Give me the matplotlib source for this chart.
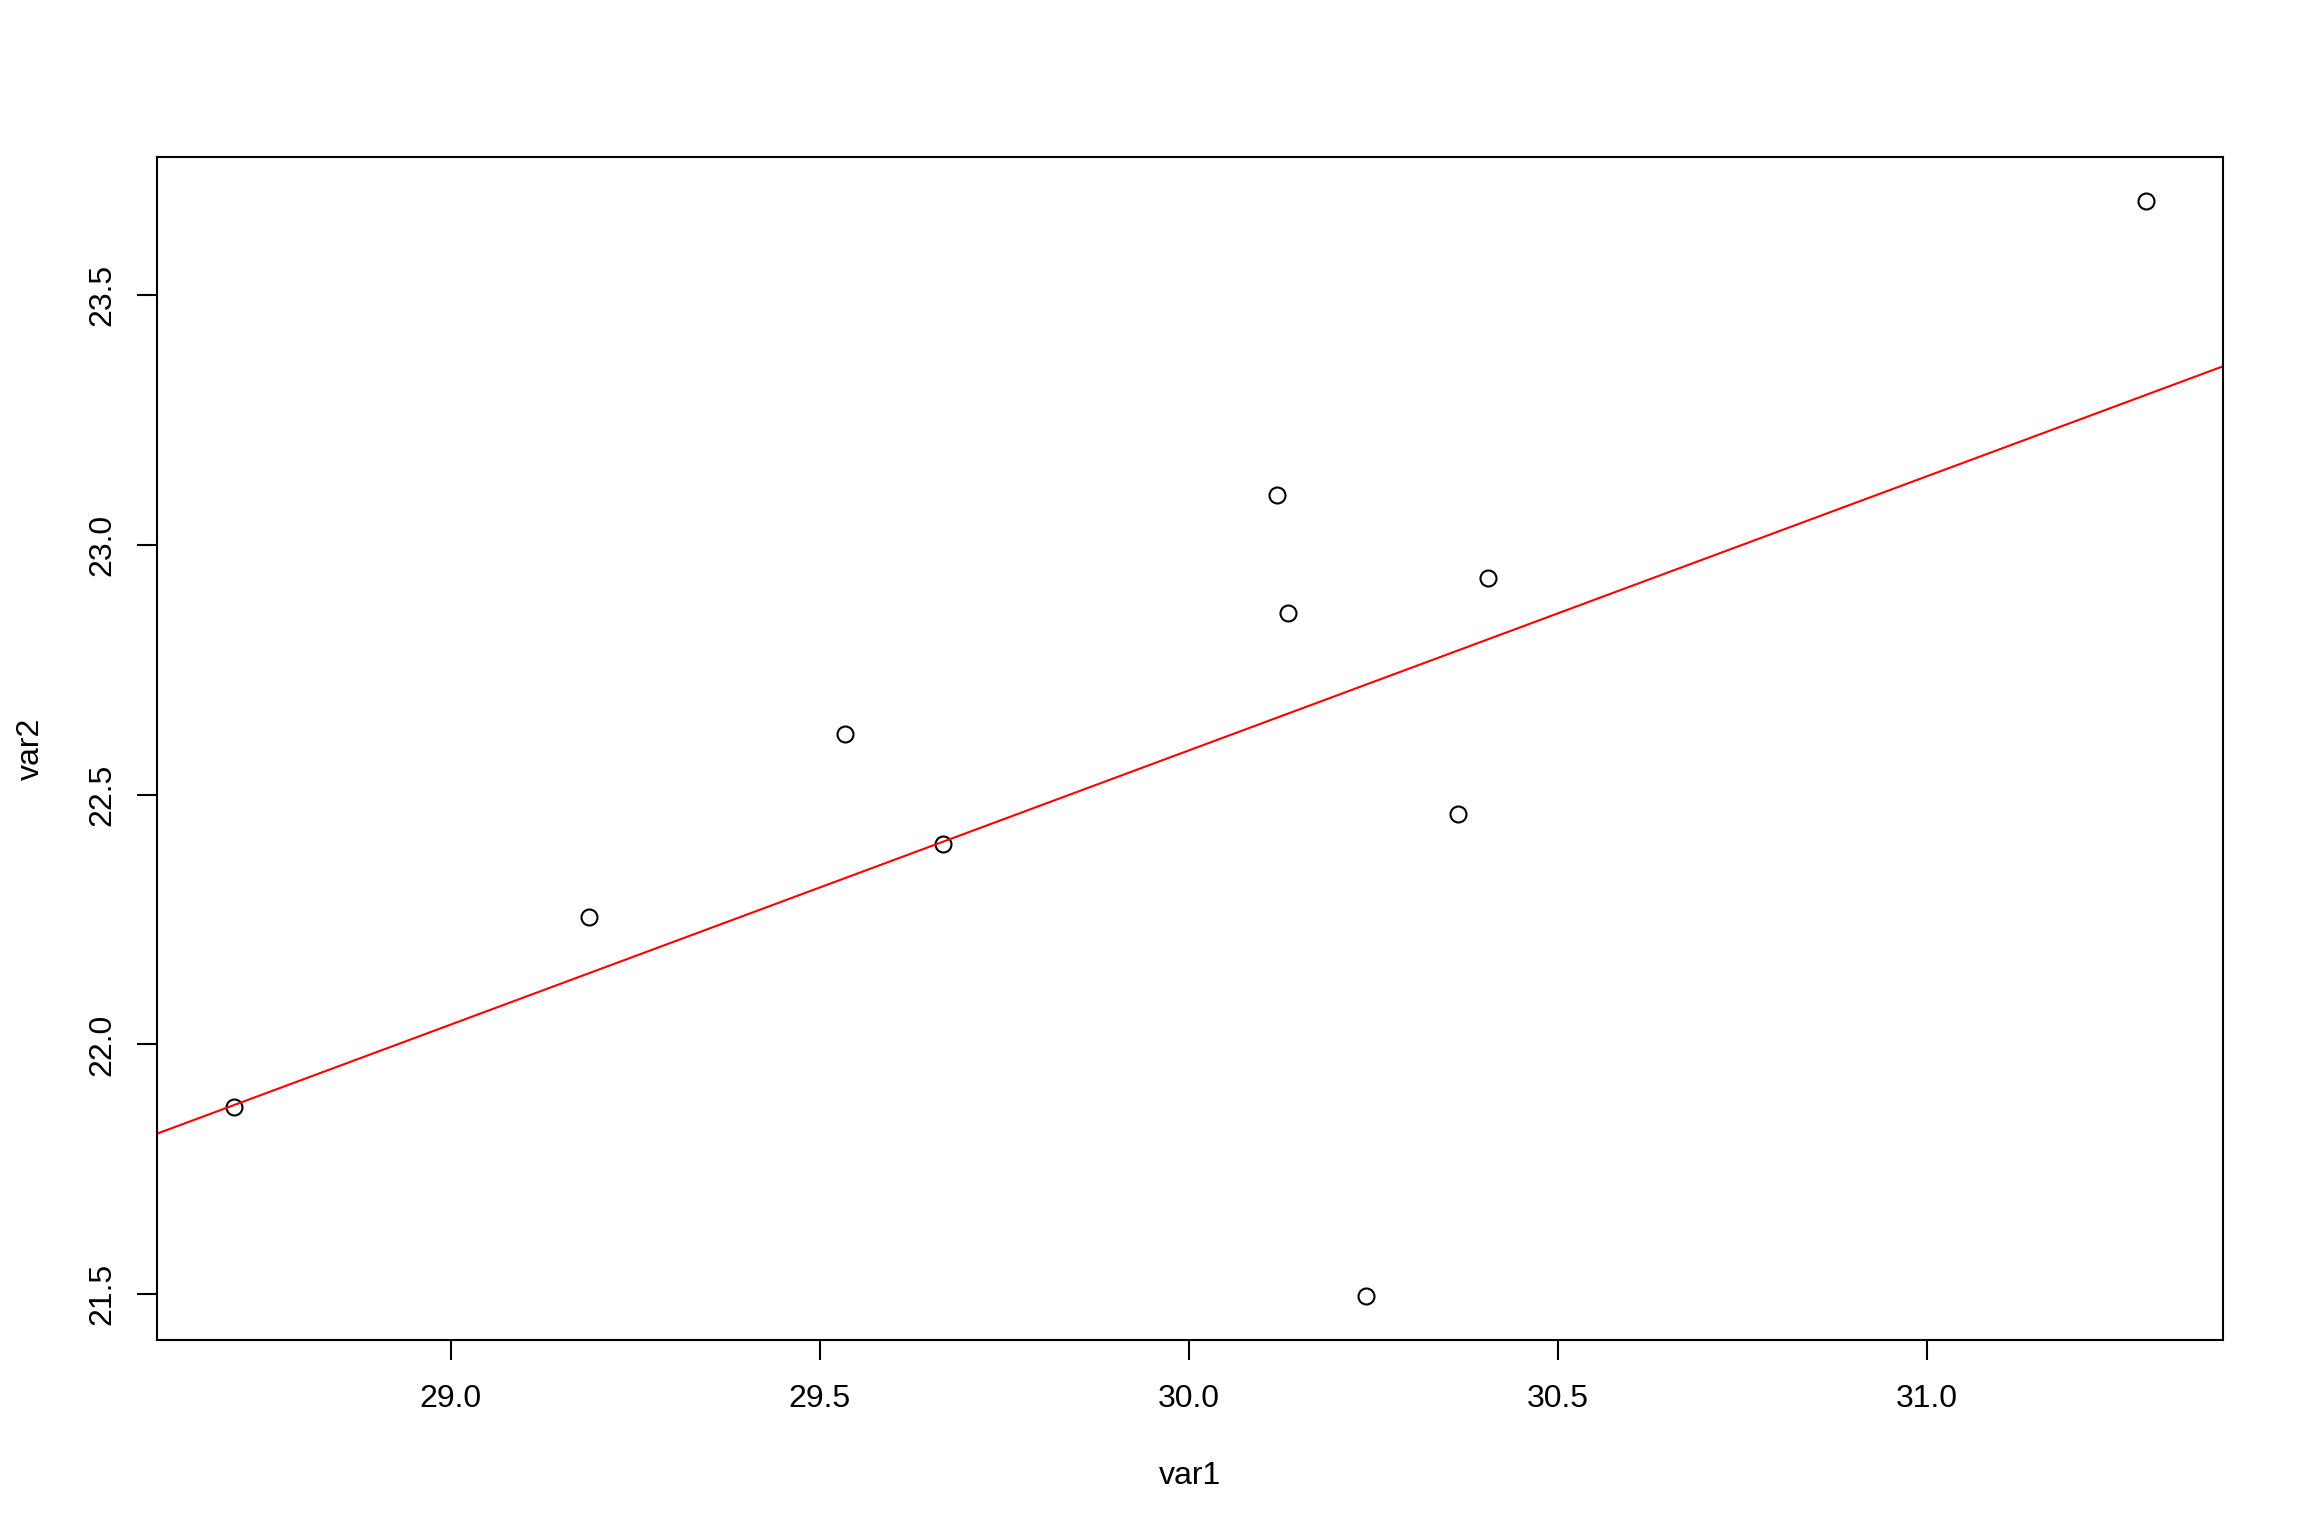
import numpy as np
import matplotlib
matplotlib.use("Agg")
import matplotlib.pyplot as plt

var1 = [28.706, 29.187, 29.534, 29.667, 30.119, 30.134, 30.240, 30.365, 30.405, 31.297]
var2 = [21.874, 22.256, 22.622, 22.401, 23.100, 22.863, 21.496, 22.462, 22.934, 23.689]
xticks = [29.0, 29.5, 30.0, 30.5, 31.0]
yticks = [21.5, 22.0, 22.5, 23.0, 23.5]

plt.rcParams['font.family'] = ['Liberation Sans', 'DejaVu Sans']

fig = plt.figure(figsize=(23.04, 15.36), dpi=100)
ax = fig.add_axes([157/2304, 1 - 1340/1536, (2223-157)/2304, (1340-157)/1536])

x = np.array(var1)
y = np.array(var2)
ax.plot(x, y, linestyle='none', marker='o', markersize=11.5, markerfacecolor='none',
        markeredgecolor='black', markeredgewidth=1.5)

slope, intercept = np.polyfit(x, y, 1)
ax.axline((0, intercept), slope=slope, color='red', linewidth=1.5)

rx = x.max() - x.min()
ry = y.max() - y.min()
ax.set_xlim(x.min() - 0.04 * rx, x.max() + 0.04 * rx)
ax.set_ylim(y.min() - 0.04 * ry, y.max() + 0.04 * ry)

ax.set_xticks(xticks)
ax.set_xticklabels([f"{v:.1f}" for v in xticks])
ax.set_yticks(yticks)
ax.set_yticklabels([f"{v:.1f}" for v in yticks], rotation=90, va='center')

for s in ax.spines.values():
    s.set_linewidth(1.5)
    s.set_color('black')

ax.tick_params(axis='both', direction='out', length=14.4, width=1.5, labelsize=23, colors='black')
ax.tick_params(axis='x', pad=17)
ax.tick_params(axis='y', pad=14)

ax.set_xlabel('var1', fontsize=23, labelpad=34)
ax.set_ylabel('var2', fontsize=23, labelpad=30)

fig.savefig('out.png', dpi=100, facecolor='white')
